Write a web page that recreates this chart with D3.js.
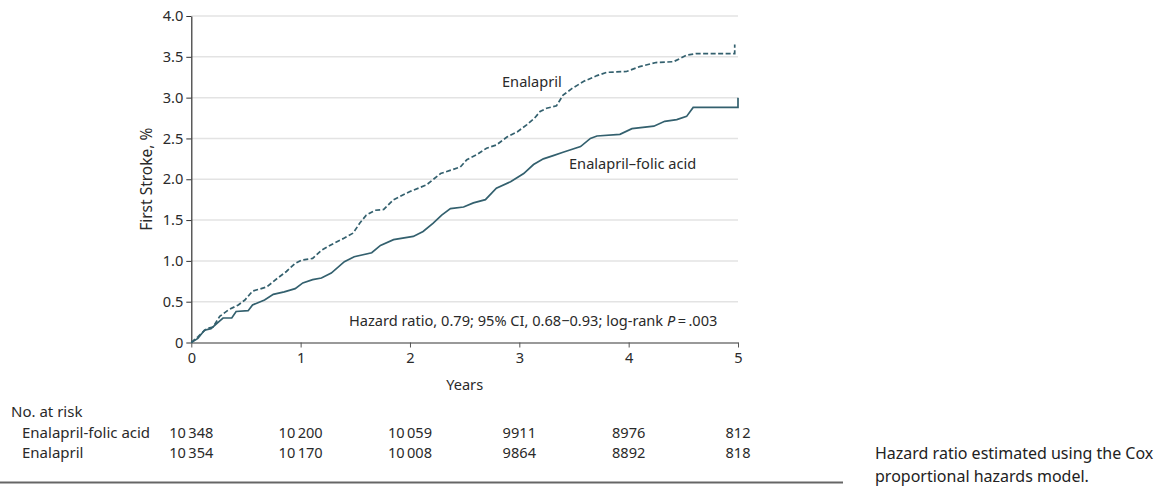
<!DOCTYPE html>
<html>
<head>
<meta charset="utf-8">
<script src="https://cdn.jsdelivr.net/npm/d3@7"></script>
<style>
  html, body { margin: 0; padding: 0; background: #fff; }
  svg { display: block; font-family: "Noto Sans", sans-serif; }
</style>
</head>
<body>
<svg id="chart" width="1165" height="487"></svg>
<script>
// ---- data ----
const yearTicks = [0, 1, 2, 3, 4, 5];
const yTicks = [0, 0.5, 1.0, 1.5, 2.0, 2.5, 3.0, 3.5, 4.0];

const enalaprilT = [0, 0.06, 0.14, 0.20, 0.26, 0.34, 0.43, 0.49, 0.56, 0.69, 0.79, 0.87, 0.95, 1.01, 1.11, 1.19, 1.31, 1.40, 1.48, 1.54, 1.60, 1.68, 1.76, 1.85, 2.0, 2.15, 2.28, 2.46, 2.52, 2.61, 2.70, 2.79, 2.89, 2.98, 3.07, 3.14, 3.19, 3.25, 3.34, 3.40, 3.48, 3.59, 3.71, 3.80, 3.98, 4.10, 4.25, 4.41, 4.53, 4.62, 4.97, 4.97];
const enalaprilV = [0, 0.07, 0.17, 0.19, 0.32, 0.40, 0.46, 0.52, 0.63, 0.68, 0.79, 0.87, 0.97, 1.01, 1.03, 1.13, 1.22, 1.28, 1.34, 1.46, 1.56, 1.62, 1.63, 1.75, 1.85, 1.93, 2.07, 2.15, 2.24, 2.30, 2.38, 2.42, 2.52, 2.58, 2.67, 2.75, 2.83, 2.87, 2.90, 3.03, 3.11, 3.20, 3.27, 3.31, 3.32, 3.38, 3.43, 3.44, 3.52, 3.54, 3.54, 3.65];

const folicT = [0, 0.06, 0.12, 0.18, 0.24, 0.29, 0.37, 0.41, 0.52, 0.56, 0.67, 0.75, 0.85, 0.95, 1.02, 1.11, 1.19, 1.28, 1.40, 1.49, 1.65, 1.73, 1.85, 2.03, 2.12, 2.21, 2.29, 2.37, 2.49, 2.58, 2.69, 2.79, 2.92, 3.04, 3.13, 3.22, 3.31, 3.40, 3.56, 3.65, 3.71, 3.92, 4.03, 4.23, 4.33, 4.44, 4.53, 4.59, 5.0, 5.0];
const folicV = [0, 0.05, 0.15, 0.17, 0.24, 0.30, 0.30, 0.38, 0.39, 0.46, 0.52, 0.59, 0.62, 0.66, 0.73, 0.77, 0.79, 0.85, 0.99, 1.05, 1.10, 1.19, 1.26, 1.30, 1.36, 1.46, 1.56, 1.64, 1.66, 1.71, 1.75, 1.89, 1.97, 2.07, 2.18, 2.25, 2.29, 2.33, 2.40, 2.50, 2.53, 2.55, 2.62, 2.65, 2.71, 2.73, 2.77, 2.88, 2.88, 3.0];

const riskGroups = ["Enalapril-folic acid", "Enalapril"];
const riskFolic = ["10\u2009348", "10\u2009200", "10\u2009059", "9911", "8976", "812"];
const riskEnalapril = ["10\u2009354", "10\u2009170", "10\u2009008", "9864", "8892", "818"];

// ---- layout ----
const svg = d3.select("#chart");
const x = d3.scaleLinear().domain([0, 5]).range([191.3, 738]);
const y = d3.scaleLinear().domain([0, 4]).range([342.5, 16]);
const lineColor = "#33606e";
const textColor = "#2a2a2a";
const fs = 14.6;

// gridlines
svg.append("g").selectAll("line").data(yTicks.filter(d => d > 0)).join("line")
  .attr("x1", x(0)).attr("x2", x(5))
  .attr("y1", d => y(d)).attr("y2", d => y(d))
  .attr("stroke", "#e3e3e3").attr("stroke-width", 1.5);

// x axis
const xAxis = svg.append("g").attr("transform", `translate(0,${y(0)})`)
  .call(d3.axisBottom(x).tickValues(yearTicks).tickFormat(d3.format("d")).tickSize(5).tickSizeOuter(0));
xAxis.attr("font-family", null).attr("font-size", null);
xAxis.select(".domain").attr("stroke", "#777").attr("stroke-width", 1.5);
xAxis.selectAll(".tick line").attr("stroke", "#555");
xAxis.selectAll("text").attr("font-size", fs).attr("fill", textColor).attr("y", 7).attr("dy", "0.95em");

// y axis
const yAxis = svg.append("g").attr("transform", `translate(${x(0)},0)`)
  .call(d3.axisLeft(y).tickValues(yTicks).tickFormat(d => d === 0 ? "0" : d3.format(".1f")(d)).tickSize(5).tickSizeOuter(0));
yAxis.attr("font-family", null).attr("font-size", null);
yAxis.select(".domain").attr("stroke", "#333").attr("stroke-width", 1.2);
yAxis.selectAll(".tick line").attr("stroke", "#333");
yAxis.selectAll("text").attr("font-size", fs).attr("fill", textColor).attr("x", -8);

// axis titles
svg.append("text").attr("transform", `translate(147,${(y(0) + y(4)) / 2}) rotate(-90)`)
  .attr("text-anchor", "middle").attr("font-size", 15.5).attr("fill", textColor).attr("dy", "0.35em")
  .text("First Stroke, %");
svg.append("text").attr("x", (x(0) + x(5)) / 2).attr("y", 385).attr("dy", "0.35em")
  .attr("text-anchor", "middle").attr("font-size", fs).attr("fill", textColor).text("Years");

// curves
const line = d3.line().x(d => x(d[0])).y(d => y(d[1])).curve(d3.curveLinear);
const enaData = enalaprilT.map((t, i) => [t, enalaprilV[i]]);
const folData = folicT.map((t, i) => [t, folicV[i]]);
svg.append("path").datum(folData).attr("d", line)
  .attr("fill", "none").attr("stroke", lineColor).attr("stroke-width", 1.7);
svg.append("path").datum(enaData).attr("d", line)
  .attr("fill", "none").attr("stroke", lineColor).attr("stroke-width", 1.7).attr("stroke-dasharray", "5,2.5");

// curve labels
svg.append("text").attr("x", 502).attr("y", 82).attr("dy", "0.35em")
  .attr("font-size", fs).attr("fill", textColor).text("Enalapril");
svg.append("text").attr("x", 569).attr("y", 163.5).attr("dy", "0.35em")
  .attr("font-size", fs).attr("fill", textColor).text("Enalapril\u2013folic acid");

// hazard ratio annotation
const hr = svg.append("text").attr("x", 349).attr("y", 321).attr("dy", "0.35em")
  .attr("font-size", fs).attr("fill", textColor);
hr.append("tspan").text("Hazard ratio, 0.79; 95% CI, 0.68\u22120.93; log-rank ");
hr.append("tspan").attr("font-style", "italic").text("P");
hr.append("tspan").text("\u2009=\u2009.003");

// number at risk table
const tfs = 15;
svg.append("text").attr("x", 11).attr("y", 411.5).attr("dy", "0.35em")
  .attr("font-size", tfs).attr("fill", textColor).text("No. at risk");
const rowsY = [433, 453];
const rowsData = [riskFolic, riskEnalapril];
riskGroups.forEach((g, i) => {
  svg.append("text").attr("x", 22).attr("y", rowsY[i]).attr("dy", "0.35em")
    .attr("font-size", tfs).attr("fill", textColor).text(g);
  svg.append("g").selectAll("text").data(rowsData[i]).join("text")
    .attr("x", (d, j) => x(yearTicks[j])).attr("y", rowsY[i]).attr("dy", "0.35em")
    .attr("text-anchor", "middle").attr("font-size", fs).attr("fill", textColor).text(d => d);
});

// bottom rule
svg.append("line").attr("x1", 0).attr("x2", 843).attr("y1", 482.5).attr("y2", 482.5)
  .attr("stroke", "#666").attr("stroke-width", 2);

// footnote
svg.append("text").attr("x", 875).attr("y", 453).attr("dy", "0.35em")
  .attr("font-size", 16).attr("fill", "#222").text("Hazard ratio estimated using the Cox");
svg.append("text").attr("x", 875).attr("y", 476.5).attr("dy", "0.35em")
  .attr("font-size", 16).attr("fill", "#222").text("proportional hazards model.");
</script>
</body>
</html>
